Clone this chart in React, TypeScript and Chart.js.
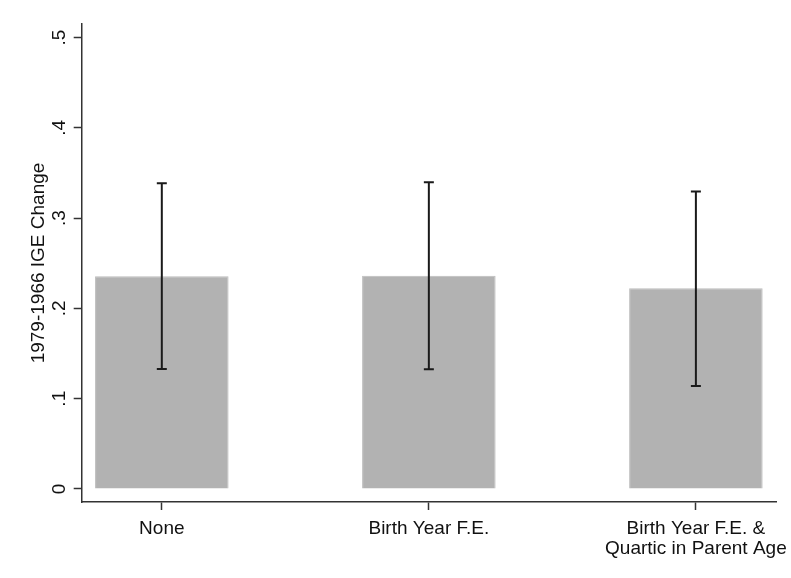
import { useEffect, useRef } from 'react';
import { Chart, registerables } from 'chart.js';

Chart.register(...registerables);

const categories: (string | string[])[] = ['None', 'Birth Year F.E.', ['Birth Year F.E. &', 'Quartic in Parent Age']];
const positions = [1, 2, 3];
const estimates = [0.2355, 0.2362, 0.2222];
const ciLow = [0.1329, 0.1325, 0.1141];
const ciHigh = [0.3385, 0.3396, 0.3296];
const yTicks = [0, 0.1, 0.2, 0.3, 0.4, 0.5];
const yTickLabels = ['0', '.1', '.2', '.3', '.4', '.5'];
const yTitle = '1979-1966 IGE Change';

const FONT = '"Liberation Sans", Arial, sans-serif';

const errorBars = {
  id: 'errorBars',
  afterDatasetsDraw(chart: any) {
    const { ctx, scales } = chart;
    const xs = scales.x;
    const ys = scales.y;
    ctx.save();
    ctx.strokeStyle = '#1a1a1a';
    ctx.lineWidth = 2;
    ctx.lineCap = 'butt';
    for (let i = 0; i < positions.length; i++) {
      const x = xs.getPixelForValue(positions[i]);
      const yl = ys.getPixelForValue(ciLow[i]);
      const yh = ys.getPixelForValue(ciHigh[i]);
      ctx.beginPath();
      ctx.moveTo(x, yl);
      ctx.lineTo(x, yh);
      ctx.moveTo(x - 5, yl);
      ctx.lineTo(x + 5, yl);
      ctx.moveTo(x - 5, yh);
      ctx.lineTo(x + 5, yh);
      ctx.stroke();
    }
    ctx.restore();
  },
};

export default function App() {
  const ref = useRef<HTMLCanvasElement>(null);
  useEffect(() => {
    if (!ref.current) return;
    const chart = new Chart(ref.current, {
      type: 'bar',
      data: {
        datasets: [
          {
            data: positions.map((p, i) => ({ x: p, y: estimates[i] })),
            backgroundColor: '#b2b2b2',
            borderColor: '#bcbcbc',
            borderWidth: 1,
            categoryPercentage: 1,
            barPercentage: 0.5,
          },
        ],
      },
      options: {
        animation: false,
        responsive: false,
        maintainAspectRatio: false,
        layout: { padding: { top: 24, right: 15, left: 0, bottom: 0 } },
        plugins: { legend: { display: false }, tooltip: { enabled: false } },
        scales: {
          x: {
            type: 'linear',
            offset: false,
            min: 0.7,
            max: 3.3,
            afterBuildTicks: (s: any) => {
              s.ticks = positions.map((v) => ({ value: v }));
            },
            afterFit: (s: any) => {
              s.height = 76;
              s.paddingLeft = 0;
              s.paddingRight = 0;
            },
            grid: {
              display: true,
              offset: false,
              drawOnChartArea: false,
              drawTicks: true,
              tickLength: 8,
              tickWidth: 1.5,
              tickColor: '#333',
            },
            border: { display: true, color: '#333', width: 1.5 },
            ticks: {
              autoSkip: false,
              maxRotation: 0,
              minRotation: 0,
              padding: 9,
              color: '#111',
              font: { family: FONT, size: 19, lineHeight: 1.05 },
              callback: (v: any) => {
                const i = positions.indexOf(Number(v));
                return i >= 0 ? categories[i] : '';
              },
            },
          },
          y: {
            type: 'linear',
            min: -0.0144,
            max: 0.515,
            afterBuildTicks: (s: any) => {
              s.ticks = yTicks.map((v) => ({ value: v }));
            },
            afterFit: (s: any) => {
              s.width = 81.7;
              s.paddingTop = 0;
              s.paddingBottom = 0;
            },
            grid: {
              display: true,
              drawOnChartArea: false,
              drawTicks: true,
              tickLength: 8,
              tickWidth: 1.5,
              tickColor: '#333',
            },
            border: { display: true, color: '#333', width: 1.5 },
            title: {
              display: true,
              text: yTitle,
              color: '#111',
              font: { family: FONT, size: 19 },
              padding: { top: 27, bottom: 0 },
            },
            ticks: {
              autoSkip: false,
              minRotation: 90,
              maxRotation: 90,
              crossAlign: 'center',
              padding: 6,
              color: '#111',
              font: { family: FONT, size: 19 },
              callback: (v: any) => {
                const i = yTicks.indexOf(Number(v));
                return i >= 0 ? yTickLabels[i] : '';
              },
            },
          },
        },
      },
      plugins: [errorBars],
    });
    return () => chart.destroy();
  }, []);
  return (
    <div style={{ position: 'absolute', left: 0, top: 0, width: 791, height: 578, background: '#fff' }}>
      <canvas ref={ref} width={791} height={578} />
    </div>
  );
}
